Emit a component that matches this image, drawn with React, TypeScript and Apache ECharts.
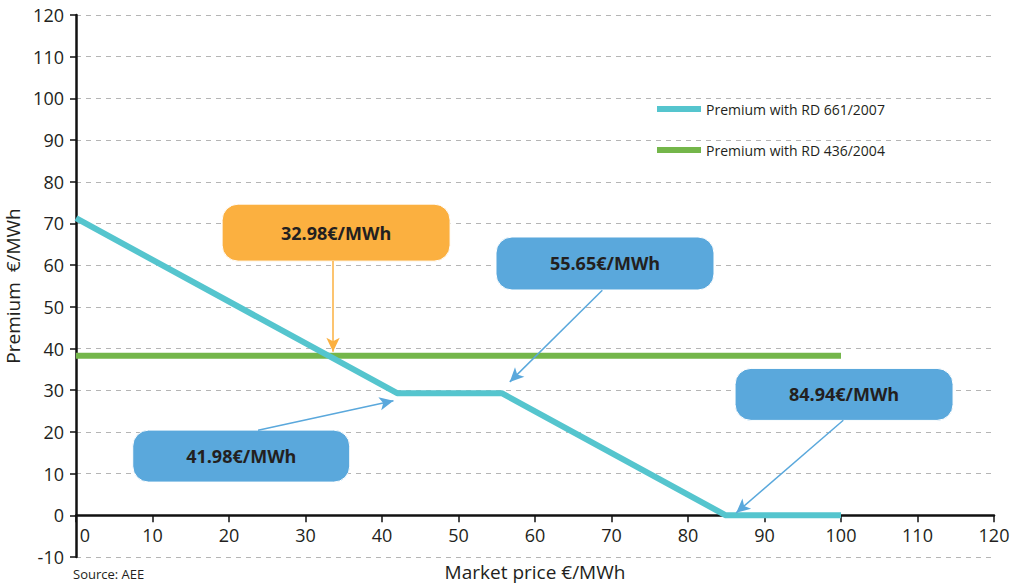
import React, { useEffect, useRef } from "react";
import * as echarts from "echarts";

// Data
const rd661X = [0, 41.98, 55.65, 84.94, 100];
const rd661Y = [71.27, 29.29, 29.29, 0, 0];
const rd436X = [0, 100];
const rd436Y = [38.29, 38.29];
const legendNames = ["Premium with RD 661/2007", "Premium with RD 436/2004"];

// Callouts (data coordinates)
const calloutLabels = ["32.98€/MWh", "55.65€/MWh", "84.94€/MWh", "41.98€/MWh"];
const calloutBoxX = [34.0, 69.15, 100.4, 21.6];
const calloutBoxY = [67.8, 60.4, 29.0, 14.2];
const arrowFromX = [33.6, 68.8, 100.3, 23.8];
const arrowFromY = [61.0, 54.0, 22.8, 20.4];
const arrowToX = [33.6, 56.7, 86.3, 41.5];
const arrowToY = [39.2, 32.0, 0.6, 27.5];
const calloutColors = ["#FBB040", "#5AA8DC", "#5AA8DC", "#5AA8DC"];

const FONT = "'Open Sans', 'Noto Sans', sans-serif";

export default function App() {
  const ref = useRef<HTMLDivElement>(null);
  useEffect(() => {
    if (!ref.current) return;
    const chart = echarts.init(ref.current, undefined, { renderer: "svg" });
    const arrowData = calloutLabels.map((_, i) => [
      { coord: [arrowFromX[i], arrowFromY[i]], lineStyle: { color: calloutColors[i], width: 1.5, type: "solid" } },
      { coord: [arrowToX[i], arrowToY[i]] },
    ]);
    const gridTop = 15;
    const gridBottom = 28;
    const plotH = 585 - gridTop - gridBottom;
    const yMin = -10;
    const yMax = 120;
    // shift the x axis up so that it sits on y = 0
    const xAxisOffset = -((0 - yMin) / (yMax - yMin)) * plotH;
    chart.setOption({
      animation: false,
      backgroundColor: "#ffffff",
      grid: { left: 76, right: 19, top: gridTop, bottom: gridBottom, containLabel: false, outerBoundsMode: "none" },
      xAxis: {
        type: "value",
        min: 0,
        max: 120,
        interval: 10,
        offset: xAxisOffset,
        name: "Market price €/MWh",
        nameLocation: "middle",
        nameGap: 47,
        nameTextStyle: { fontFamily: FONT, fontSize: 19, color: "#231F20" },
        axisLine: { onZero: false, lineStyle: { color: "#111", width: 2.5 } },
        axisTick: { show: true, length: 7, lineStyle: { color: "#111", width: 1.5 } },
        axisLabel: {
          fontFamily: FONT,
          fontSize: 18,
          color: "#231F20",
          margin: 11,
          formatter: (v: number) => (v === 0 ? "{z|0}" : String(v)),
          rich: { z: { fontFamily: FONT, fontSize: 18, color: "#231F20", padding: [0, 0, 0, 18] } },
        },
        splitLine: { show: false },
      },
      yAxis: {
        type: "value",
        min: yMin,
        max: yMax,
        interval: 10,
        name: "Premium  €/MWh",
        nameLocation: "middle",
        nameGap: 50,
        nameRotate: 90,
        nameTextStyle: { fontFamily: FONT, fontSize: 19, color: "#231F20" },
        axisLine: { show: true, onZero: false, lineStyle: { color: "#111", width: 2.5 } },
        axisTick: { show: true, length: 6, lineStyle: { color: "#111", width: 1.5 } },
        axisLabel: { fontFamily: FONT, fontSize: 18, color: "#231F20", margin: 12 },
        splitLine: { show: true, lineStyle: { color: "#b5b5b5", type: [5, 5], width: 1 } },
      },
      legend: {
        orient: "vertical",
        left: 652,
        top: 97,
        itemGap: 27,
        itemWidth: 44,
        itemHeight: 6,
        icon: "rect",
        textStyle: { fontFamily: FONT, fontSize: 14, color: "#231F20" },
        data: legendNames,
      },
      series: [
        {
          name: legendNames[0],
          type: "line",
          data: rd661X.map((x, i) => [x, rd661Y[i]]),
          symbol: "none",
          lineStyle: { color: "#55C5CE", width: 6, join: "round" },
          itemStyle: { color: "#55C5CE" },
          z: 3,
        },
        {
          name: legendNames[1],
          type: "line",
          data: rd436X.map((x, i) => [x, rd436Y[i]]),
          symbol: "none",
          lineStyle: { color: "#74B64A", width: 6 },
          itemStyle: { color: "#74B64A" },
          z: 2,
          markLine: {
            silent: true,
            symbol: ["none", "arrow"],
            symbolSize: [10, 14],
            label: { show: false },
            data: arrowData,
            z: 5,
          },
        },
      ],
    });
    const boxW = [228, 218, 218, 217];
    const boxH = [57, 53, 52, 52];
    const graphics: any[] = calloutLabels.map((label, i) => {
      const p = chart.convertToPixel({ gridIndex: 0 }, [calloutBoxX[i], calloutBoxY[i]]) as number[];
      return {
        type: "group",
        x: p[0] - boxW[i] / 2,
        y: p[1] - boxH[i] / 2,
        z: 10,
        children: [
          {
            type: "rect",
            shape: { x: 0, y: 0, width: boxW[i], height: boxH[i], r: 16 },
            style: { fill: calloutColors[i], stroke: "#ffffff", lineWidth: 1 },
          },
          {
            type: "text",
            x: boxW[i] / 2,
            y: boxH[i] / 2,
            style: {
              text: label,
              align: "center",
              verticalAlign: "middle",
              fontFamily: FONT,
              fontWeight: "bold",
              fontSize: 18,
              fill: "#231F20",
            },
          },
        ],
      };
    });
    graphics.push({
      type: "text",
      left: 73,
      top: 567,
      style: { text: "Source: AEE", fontFamily: FONT, fontSize: 13, fill: "#231F20" },
    });
    chart.setOption({ graphic: graphics });
    return () => chart.dispose();
  }, []);
  return <div ref={ref} style={{ width: 1013, height: 585, position: "absolute", left: 0, top: 0 }} />;
}
